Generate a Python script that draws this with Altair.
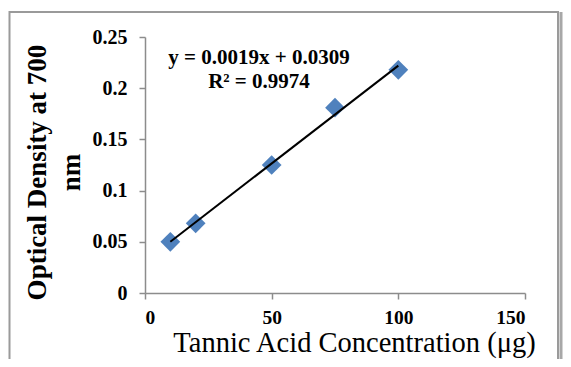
import altair as alt
import pandas as pd

conc = [10, 20, 50, 75, 100]
od = [0.050, 0.068, 0.125, 0.181, 0.218]

eq_text = ["y = 0.0019x + 0.0309", "R² = 0.9974"]
eq_x = [45, 45]
eq_y = [0.2295, 0.206]

x_ticks = [0, 50, 100, 150]
y_ticks = [0, 0.05, 0.1, 0.15, 0.2, 0.25]

df = pd.DataFrame({"conc": conc, "od": od})
df_eq = pd.DataFrame({"t": eq_text, "x": eq_x, "y": eq_y})

FONT = "Liberation Serif"
AX = "#8c8c8c"

xs = alt.Scale(domain=[0, 150], nice=False, zero=False)
ys = alt.Scale(domain=[0, 0.25], nice=False, zero=False)

xax = alt.Axis(values=x_ticks, format="d", grid=False, domainColor=AX, domainWidth=1.5,
               tickColor=AX, tickWidth=1.5, tickSize=6, labelFont=FONT, labelFontSize=19.5,
               labelFontWeight="bold", labelColor="black", labelPadding=9,
               title="Tannic Acid Concentration (μg)", titleFont=FONT, titleFontSize=28.5,
               titleFontWeight="normal", titleColor="black", titleX=209, titleY=35,
               titleBaseline="top", titleAlign="center")
yax = alt.Axis(values=y_ticks, format="~g", grid=False, domainColor=AX, domainWidth=1.5,
               tickColor=AX, tickWidth=1.5, tickSize=6, labelFont=FONT, labelFontSize=20,
               labelFontWeight="bold", labelColor="black", labelPadding=12,
               title=["Optical Density at 700", "nm"], titleFont=FONT, titleFontSize=27,
               titleFontWeight="bold", titleColor="black", titleX=-94, titleY=135,
               titleBaseline="bottom", titleAlign="center", titleAngle=270, titleLineHeight=34)

border = alt.Chart(alt.Data(values=[{}])).mark_rect(
    fillOpacity=0, stroke="#9a9a9a", strokeWidth=2
).encode(x=alt.value(-135.5), x2=alt.value(413), y=alt.value(-25), y2=alt.value(380))

right_edge = alt.Chart(alt.Data(values=[{}])).mark_rule(
    color="#a8a8a8", strokeWidth=3
).encode(x=alt.value(416), y=alt.value(-25), y2=alt.value(380))

points = alt.Chart(df).mark_point(shape="diamond", filled=True, size=390,
                                  color="#4F81BD", opacity=1).encode(
    x=alt.X("conc:Q", scale=xs, axis=xax),
    y=alt.Y("od:Q", scale=ys, axis=yax),
)

trend = alt.Chart(df).mark_line(color="black", strokeWidth=2).transform_regression(
    "conc", "od"
).encode(x=alt.X("conc:Q", scale=xs), y=alt.Y("od:Q", scale=ys))

eq = alt.Chart(df_eq).mark_text(font=FONT, fontSize=21, fontWeight="bold",
                                color="black", align="center", baseline="middle").encode(
    x=alt.X("x:Q", scale=xs), y=alt.Y("y:Q", scale=ys), text="t:N")

chart = alt.layer(border, right_edge, points, trend, eq).properties(
    width=380, height=256,
    autosize=alt.AutoSizeParams(type="none"),
    padding={"left": 137, "top": 29, "right": 38, "bottom": 66},
    background="white",
).configure_view(stroke=None)

chart.save("out.html", embed_options={"renderer": "svg", "actions": False})
